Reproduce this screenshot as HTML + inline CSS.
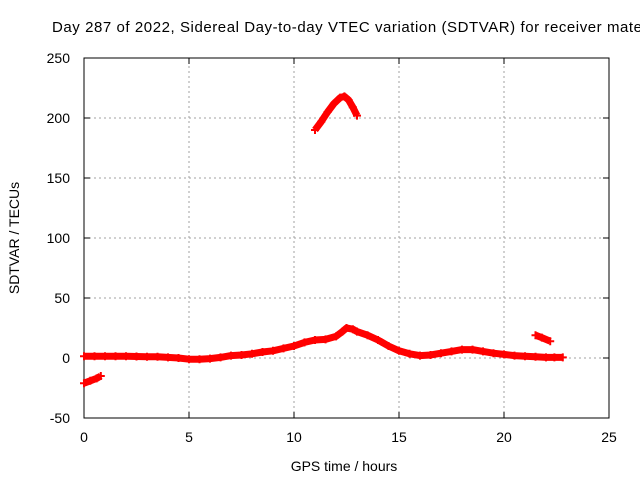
<!DOCTYPE html>
<html><head><meta charset="utf-8"><style>
body{margin:0;background:#fff;}
svg{display:block;font-family:"Liberation Sans",sans-serif;font-size:14px;}
</style></head><body>
<svg id="chart" width="640" height="480">
<text x="52" y="32" font-size="15" textLength="590" lengthAdjust="spacing">Day 287 of 2022, Sidereal Day-to-day VTEC variation (SDTVAR) for receiver mate</text>
<g id="grid"></g><g id="axes"></g><g id="series"></g>
<text x="344" y="471" text-anchor="middle">GPS time / hours</text>
<text transform="translate(19,238) rotate(-90)" text-anchor="middle">SDTVAR / TECUs</text>
</svg>
<script>
const xTicks=[0,5,10,15,20,25];
const yTicks=[-50,0,50,100,150,200,250];
const mainT=[0,0.5,1,1.5,2,2.5,3,3.5,4,4.5,5,5.5,6,6.5,7,7.5,8,8.5,9,9.5,10,10.5,11,11.5,12,12.3,12.5,12.8,13,13.5,14,14.5,15,15.5,16,16.5,17,17.5,18,18.5,19,19.5,20,20.5,21,21.5,22,22.4,22.8];
const mainV=[1.5,1.5,1.5,1.5,1.5,1.2,1,1,0.5,0,-1,-1,-0.5,0.5,2,2.5,3.5,5,6,8,10,13,15,15.5,18,22,25,24,22,19,15,10,6,3.5,2,2.5,4,5.5,7,7,5.5,4,3,2,1.5,1,0.5,0.5,0.5];
const lowT=[0,0.3,0.6,0.8];
const lowV=[-21,-19,-17,-15];
const arcT=[11,11.3,11.6,11.9,12.2,12.4,12.6,12.8,13];
const arcV=[190,197,205,212,217,218,215,209,202];
const lateT=[21.5,21.8,22.2];
const lateV=[19,17,14];
const X0=84,X1=609,Y0=418,Y1=58;
const sx=t=>X0+(t-0)/25*(X1-X0);
const sy=v=>Y0-(v+50)/300*(Y0-Y1);
const NS='http://www.w3.org/2000/svg';
function mk(tag,attrs,parent){const e=document.createElementNS(NS,tag);for(const k in attrs)e.setAttribute(k,attrs[k]);parent.appendChild(e);return e;}
const grid=document.getElementById('grid'),axes=document.getElementById('axes'),ser=document.getElementById('series');
xTicks.forEach(t=>{
 if(t>0&&t<25){const l=mk('line',{x1:sx(t),x2:sx(t),y1:Y0,y2:Y1,stroke:'#a0a0a0','stroke-dasharray':'2,3'},grid);
 
 }
 const tx=mk('text',{x:sx(t),y:Y0+24,'text-anchor':'middle'},axes);tx.textContent=t;
 
 
 mk('line',{x1:sx(t),x2:sx(t),y1:Y0,y2:Y0-6,stroke:'#000'},axes);
 mk('line',{x1:sx(t),x2:sx(t),y1:Y1,y2:Y1+6,stroke:'#000'},axes);
});
yTicks.forEach(v=>{
 if(v>-50&&v<250){const l=mk('line',{x1:X0,x2:X1,y1:sy(v),y2:sy(v),stroke:'#a0a0a0','stroke-dasharray':'2,3'},grid);
 
 }
 const tx=mk('text',{x:X0-14,y:sy(v)+5,'text-anchor':'end'},axes);tx.textContent=v;
 
 
 mk('line',{x1:X0,x2:X0+6,y1:sy(v),y2:sy(v),stroke:'#000'},axes);
 mk('line',{x1:X1,x2:X1-6,y1:sy(v),y2:sy(v),stroke:'#000'},axes);
});
const fr=mk('rect',{x:X0,y:Y1,width:X1-X0,height:Y0-Y1,fill:'none',stroke:'#000'},axes);


function series(T,V,name){
 const pts=T.map((t,i)=>sx(t)+','+sy(V[i])).join(' ');
 const p=mk('polyline',{points:pts,fill:'none',stroke:'#ff0000','stroke-width':7,'stroke-linejoin':'round'},ser);
 
 
 T.forEach((t,i)=>{const x=sx(t),y=sy(V[i]);
  mk('path',{d:`M${x-4},${y}H${x+4}M${x},${y-4}V${y+4}`,stroke:'#ff0000','stroke-width':2},ser);});
}
series(mainT,mainV,'sdtvar-main-series');
series(lowT,lowV,'sdtvar-low-segment');
series(arcT,arcV,'sdtvar-high-arc');
series(lateT,lateV,'sdtvar-late-segment');
</script>
</body></html>
